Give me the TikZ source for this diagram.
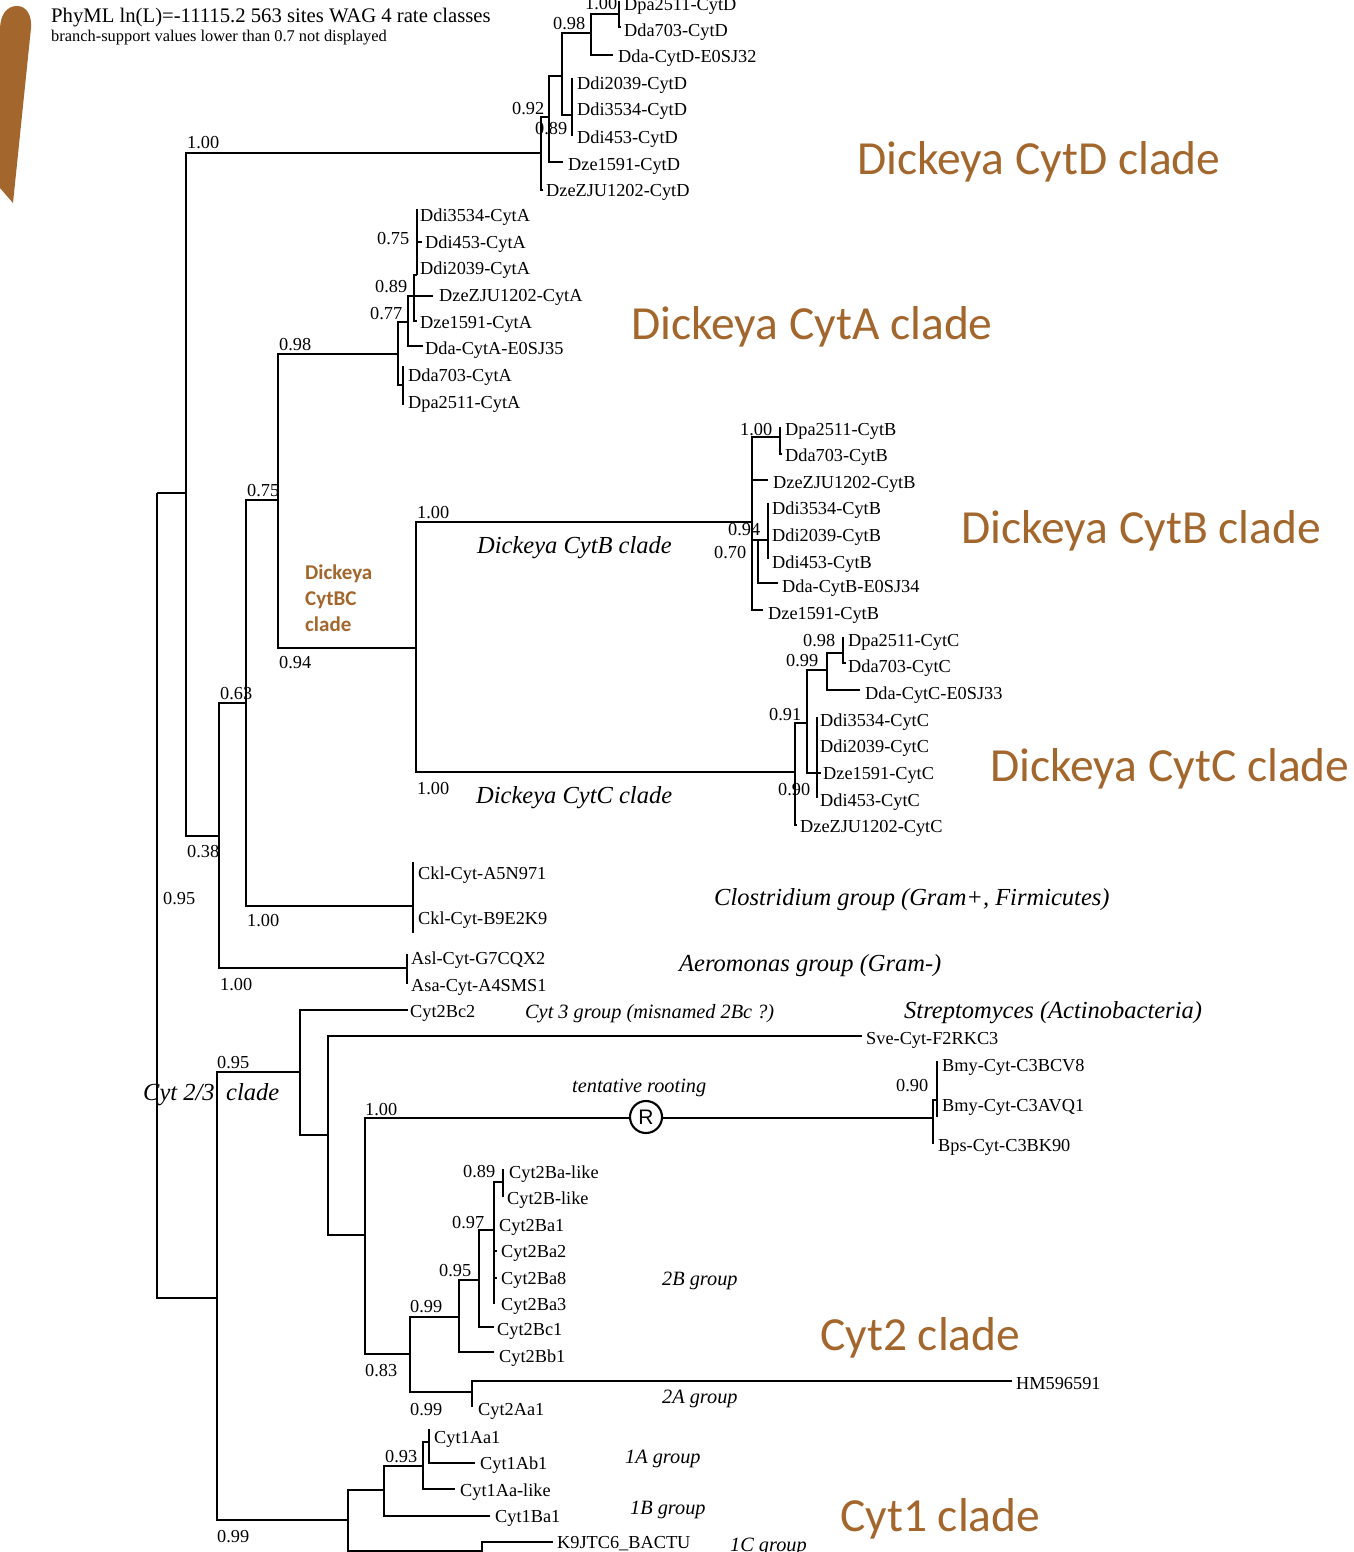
\documentclass[tikz,border=0pt]{standalone}
\usepackage{fontspec}
\setmainfont{Liberation Serif}
\newfontfamily\carl{Carlito}
\newfontfamily\sansR{Liberation Sans}
\definecolor{brn}{RGB}{163,103,45}
\begin{document}
\begin{tikzpicture}[x=1pt,y=-1pt,
 br/.style={line width=2.1pt},
 lf/.style={anchor=base west,inner sep=0pt,yshift=-6pt,font=\fontsize{18.3}{20}\selectfont},
 hd/.style={anchor=base west,inner sep=0pt},
 gb/.style={anchor=base west,inner sep=0pt,yshift=-8pt,font=\fontsize{24.5}{28}\selectfont\itshape},
 gs/.style={anchor=base west,inner sep=0pt,yshift=-7pt,font=\fontsize{20.3}{24}\selectfont\itshape},
 bb/.style={anchor=base west,inner sep=0pt,yshift=-15pt,text=brn,font=\carl\fontsize{47.5}{56}\selectfont},
 bs/.style={anchor=base west,inner sep=0pt,yshift=-7pt,text=brn,font=\carl\bfseries\fontsize{21}{25}\selectfont},
]
\path[use as bounding box,clip] (0,0) rectangle (1353,1552);
\fill[white] (0,0) rectangle (1353,1552);
% brown bar
\fill[brn] (0,188) -- (0,30) .. controls (0,13) and (8,6) .. (17,6) .. controls (27,6) and (32,16) .. (31,28) -- (13,203) -- cycle;
% header
\node[hd,font=\fontsize{20.7}{24}\selectfont] (title) at (51,23) {PhyML ln(L)=-11115.2 563 sites WAG 4 rate classes};
\node[hd,font=\fontsize{16.4}{19}\selectfont] (subtitle) at (51,42) {branch-support values lower than 0.7 not displayed};
% internal nodes and tips
\foreach \n/\x/\y in {r0/157/493, a/186/493, b/219/836, c/246/703, d/278/500, bc/416/648,
  cd0/541/153, cd1/549/117, cd2/562/76, cdd/572/115, cd3/591/33, cd4/619/14,
  tD1/620/2, tD2/621/27, tD3/613/55, tD4/573/79, tD5/573/110, tD6/573/135, tD7/563/162, tD8/543/190,
  ca0/398/354, cadd/403/385, ca1/408/322, ca2/414/296, ca3/417/275,
  tA1/418/210, tA2/422/242, tA3/418/268, tA4/433/296, tA5/417/321, tA6/423/346, tA7/404/367, tA8/404/404,
  cb0/752/522, cb1/780/437, cb2/758/540, cb3/768/540,
  tB1/781/428, tB2/782/454, tB3/768/480, tB4/769/504, tB5/769/535, tB6/769/558, tB7/778/583, tB8/763/610,
  cc0/795/772, cc1/807/723, cc2/817/773, cc3/827/670, cc4/843/653,
  tC1/844/638, tC2/846/663, tC3/860/690, tC4/818/718, tC5/818/746, tC6/821/773, tC7/818/797, tC8/797/825,
  clo/413/906, tK1/414/863, tK2/414/932, aer/407/968, tS1/408/955, tS2/408/983,
  cyt23/217/1298, e/300/1072, f/328/1135, g/365/1235, bac/933/1118, bac2/937/1100,
  tE1/408/1010, tE2/862/1036, tE3/938/1062, tE4/938/1116, tE5/934/1143,
  h/410/1354, i/459/1317, k/479/1280, l/494/1230, m/503/1182, j/472/1392,
  tF1/504/1170, tF2/504/1196, tF3/495/1225, tF4/497/1251, tF5/497/1278, tF6/495/1303, tF7/494/1327, tF8/494/1352, tF9/1012/1381, tF10/473/1406,
  cyt1/348/1520, n/384/1490, p/423/1466, q/429/1442, o/482/1551,
  tG1/430/1430, tG2/475/1463, tG3/455/1489, tG4/490/1516, tG5/553/1542, tG6/483/1570}
  \coordinate (\n) at (\x,\y);
% branches
\foreach \p/\c in {r0/a, r0/cyt23, a/cd0, a/b, b/c, b/aer, c/d, c/clo, d/ca0, d/bc, bc/cb0, bc/cc0,
  cd0/cd1, cd0/tD8, cd1/cd2, cd1/tD7, cd2/cd3, cd2/cdd, cdd/tD4, cdd/tD5, cdd/tD6, cd3/cd4, cd3/tD3, cd4/tD1, cd4/tD2,
  ca0/ca1, ca0/cadd, cadd/tA7, cadd/tA8, ca1/ca2, ca1/tA6, ca2/ca3, ca2/tA4, ca2/tA5, ca3/tA1, ca3/tA2, ca3/tA3,
  cb0/cb1, cb0/tB3, cb0/cb2, cb0/tB8, cb1/tB1, cb1/tB2, cb2/cb3, cb2/tB7, cb3/tB4, cb3/tB5, cb3/tB6,
  cc0/cc1, cc0/tC8, cc1/cc3, cc1/cc2, cc2/tC4, cc2/tC5, cc2/tC6, cc2/tC7, cc3/cc4, cc3/tC3, cc4/tC1, cc4/tC2,
  clo/tK1, clo/tK2, aer/tS1, aer/tS2,
  cyt23/e, cyt23/cyt1, e/tE1, e/f, f/tE2, f/g, g/bac, g/h, bac/bac2, bac/tE5, bac2/tE3, bac2/tE4,
  h/i, h/j, i/k, i/tF8, k/l, k/tF7, l/m, l/tF3, l/tF4, l/tF5, l/tF6, m/tF1, m/tF2, j/tF9, j/tF10,
  cyt1/n, cyt1/o, n/p, n/tG4, p/q, p/tG3, q/tG1, q/tG2, o/tG5, o/tG6}
  \draw[br] (\p) |- (\c);
% rooting mark
\node[circle,draw,line width=2.1pt,fill=white,minimum size=32pt,inner sep=0pt,font=\sansR\fontsize{21}{24}\selectfont] (R) at (646,1117) {R};
% leaf labels
\foreach \n/\x/\y/\t in {lD1/624/5/Dpa2511-CytD, lD2/624/31/Dda703-CytD, lD3/618/57/Dda-CytD-E0SJ32,
  lD4/577/84/Ddi2039-CytD, lD5/577/110/Ddi3534-CytD, lD6/577/137/Ddi453-CytD, lD7/568/164/Dze1591-CytD, lD8/546/190/DzeZJU1202-CytD,
  lA1/420/215/Ddi3534-CytA, lA2/425/242/Ddi453-CytA, lA3/420/268/Ddi2039-CytA, lA4/439/295/DzeZJU1202-CytA,
  lA5/420/322/Dze1591-CytA, lA6/425/348/Dda-CytA-E0SJ35, lA7/408/375/Dda703-CytA, lA8/408/402/Dpa2511-CytA,
  lB1/785/429/Dpa2511-CytB, lB2/785/455/Dda703-CytB, lB3/773/482/DzeZJU1202-CytB, lB4/772/508/Ddi3534-CytB,
  lB5/772/535/Ddi2039-CytB, lB6/772/562/Ddi453-CytB, lB7/782/586/Dda-CytB-E0SJ34, lB8/768/613/Dze1591-CytB,
  lC1/848/640/Dpa2511-CytC, lC2/848/666/Dda703-CytC, lC3/865/693/Dda-CytC-E0SJ33, lC4/820/720/Ddi3534-CytC,
  lC5/820/746/Ddi2039-CytC, lC6/823/773/Dze1591-CytC, lC7/820/800/Ddi453-CytC, lC8/800/826/DzeZJU1202-CytC,
  lK1/418/873/Ckl-Cyt-A5N971, lK2/418/918/Ckl-Cyt-B9E2K9, lS1/411/958/Asl-Cyt-G7CQX2, lS2/411/985/Asa-Cyt-A4SMS1,
  lE1/410/1011/Cyt2Bc2, lE2/866/1038/Sve-Cyt-F2RKC3, lE3/942/1065/Bmy-Cyt-C3BCV8, lE4/942/1105/Bmy-Cyt-C3AVQ1, lE5/938/1145/Bps-Cyt-C3BK90,
  lF1/509/1172/Cyt2Ba-like, lF2/507/1198/Cyt2B-like, lF3/499/1225/Cyt2Ba1, lF4/501/1251/Cyt2Ba2, lF5/501/1278/Cyt2Ba8,
  lF6/501/1304/Cyt2Ba3, lF7/497/1329/Cyt2Bc1, lF8/499/1356/Cyt2Bb1, lF9/1016/1383/HM596591, lF10/478/1409/Cyt2Aa1,
  lG1/434/1437/Cyt1Aa1, lG2/480/1463/Cyt1Ab1, lG3/460/1490/Cyt1Aa-like, lG4/495/1516/Cyt1Ba1, lG5/557/1542/K9JTC6\_BACTU}
  \node[lf] (\n) at (\x,\y) {\t};
% support values
\foreach \n/\x/\y/\t in {s1/585/4/1.00, s2/553/24/0.98, s3/512/109/0.92, s4/535/129/0.89, s5/187/143/1.00,
  s6/377/238/0.75, s7/375/286/0.89, s8/370/313/0.77, s9/279/344/0.98, s10/740/429/1.00, s11/247/490/0.75,
  s12/417/512/1.00, s13/728/529/0.94, s14/714/552/0.70, s15/803/640/0.98, s16/786/660/0.99, s17/279/662/0.94,
  s18/220/693/0.63, s19/769/714/0.91, s20/417/788/1.00, s21/778/789/0.90, s22/187/851/0.38, s23/163/898/0.95,
  s24/247/920/1.00, s25/220/984/1.00, s26/217/1062/0.95, s27/896/1085/0.90, s28/365/1109/1.00, s29/463/1171/0.89,
  s30/452/1222/0.97, s31/439/1270/0.95, s32/410/1306/0.99, s33/365/1370/0.83, s34/410/1409/0.99, s35/385/1456/0.93,
  s36/217/1536/0.99}
  \node[lf] (\n) at (\x,\y) {\t};
% group labels
\node[gb] (g1) at (477,545) {Dickeya CytB clade};
\node[gb] (g2) at (476,795) {Dickeya CytC clade};
\node[gb] (g3) at (714,897) {Clostridium group (Gram+, Firmicutes)};
\node[gb] (g4) at (679,963) {Aeromonas group (Gram-)};
\node[gb] (g5) at (904,1010) {Streptomyces (Actinobacteria)};
\node[gb] (g6) at (143,1092) {Cyt 2/3};
\node[gb] (g7) at (226,1092) {clade};
\node[gs] (h1) at (525,1011) {Cyt 3 group (misnamed 2Bc ?)};
\node[gs] (h2) at (572,1085) {tentative rooting};
\node[gs] (h3) at (662,1278) {2B group};
\node[gs] (h4) at (662,1396) {2A group};
\node[gs] (h5) at (625,1456) {1A group};
\node[gs] (h6) at (630,1507) {1B group};
\node[gs] (h7) at (730,1544) {1C group};
% brown clade labels
\node[bb] (b1) at (857,160) {Dickeya CytD clade};
\node[bb] (b2) at (631,324) {Dickeya CytA clade};
\node[bb] (b3) at (961,528) {Dickeya CytB clade};
\node[bb] (b4) at (990,766) {Dickeya CytC clade};
\node[bb] (b5) at (820,1335) {Cyt2 clade};
\node[bb] (b6) at (840,1516) {Cyt1 clade};
\node[bs] (bc1) at (305,572) {Dickeya};
\node[bs] (bc2) at (305,598) {CytBC};
\node[bs] (bc3) at (305,624) {clade};
\end{tikzpicture}
\end{document}
